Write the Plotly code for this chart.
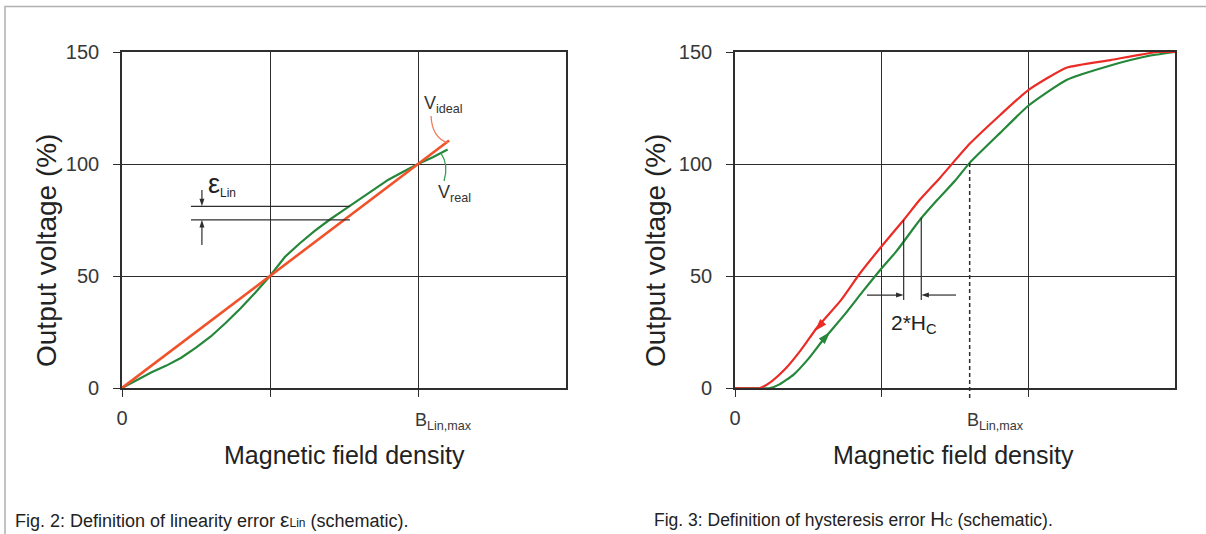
import plotly.graph_objects as go

# ---------------- data ----------------
# Fig. 2 (linearity)
lin_x = [0.0, 0.1, 0.2, 0.3, 0.4, 0.5, 0.6, 0.7, 0.8, 0.9, 1.0, 1.1, 1.2, 1.3, 1.4, 1.5, 1.6, 1.7, 1.8, 1.9, 2.0, 2.1, 2.2]
lin_real = [0, 3.5, 7, 10, 13.5, 18, 23, 29, 35.5, 42.5, 50, 58.5, 64.5, 70, 75, 79.5, 84, 88.5, 93, 96.5, 100, 103, 106.5]
ideal_x = [0, 2.21]
ideal_y = [0, 110.5]

# Fig. 3 (hysteresis)
down_x = [0, 0.17, 0.25, 0.35, 0.45, 0.56, 0.72, 0.85, 0.99, 1.15, 1.26, 1.4, 1.6, 1.81, 2.0, 2.26, 2.56, 2.88, 3.0]
down_v = [0, 0, 3, 9, 17, 27, 39, 51, 62.5, 75, 84, 94, 109, 122, 133, 143, 146.4, 150, 150]
up_x = [0, 0.24, 0.3, 0.4, 0.5, 0.6, 0.75, 0.87, 0.99, 1.1, 1.26, 1.38, 1.5, 1.6, 1.81, 2.0, 2.26, 2.56, 2.8, 3.0]
up_v = [0, 0, 1.5, 6, 13, 21.4, 33, 43, 52.7, 61, 75, 84, 92.5, 100.5, 114, 126, 137.5, 144, 148, 150]

y_ticks = [0, 50, 100, 150]
x_major_ticks = [0]
x_major_text = ["0"]
x_minor_ticks = [1, 2]
b_lin_left = 2.0
b_lin_right = 1.6

# annotation geometry (data units)
eps_x = 0.54
eps_top, eps_bot = 81.1, 75.1
eps_line_x = [0.466, 1.54]
eps_tail_top, eps_tail_bot = 88.4, 63.8
hc_red_x, hc_green_x = 1.15, 1.27
hc_arrow_v = 41.5
hc_red_tail_x, hc_green_tail_x = 0.90, 1.507
red_head = (0.545, 25.5)
green_head = (0.648, 25.0)

# ---------------- styling ----------------
W, H = 1206, 534
FONT = "Liberation Sans, Arial, Helvetica, sans-serif"
AX = "#2e2e2e"
TXT = "#383838"
ORANGE = "#f0522a"
RED = "#eb2b25"
GREEN = "#25873a"


def px(x):
    return x / W


def py(y):
    return 1 - y / H


fig = go.Figure()

fig.add_trace(go.Scatter(x=lin_x, y=lin_real, xaxis="x", yaxis="y", mode="lines",
                         line=dict(color=GREEN, width=2.2), showlegend=False, hoverinfo="skip"))
fig.add_trace(go.Scatter(x=ideal_x, y=ideal_y, xaxis="x", yaxis="y", mode="lines",
                         line=dict(color=ORANGE, width=2.6), showlegend=False, hoverinfo="skip"))
fig.add_trace(go.Scatter(x=up_x, y=up_v, xaxis="x2", yaxis="y2", mode="lines",
                         line=dict(color=GREEN, width=2.2, shape="spline", smoothing=0.5),
                         showlegend=False, hoverinfo="skip"))
fig.add_trace(go.Scatter(x=down_x, y=down_v, xaxis="x2", yaxis="y2", mode="lines",
                         line=dict(color=RED, width=2.2, shape="spline", smoothing=0.5),
                         showlegend=False, hoverinfo="skip"))


def head(x, y, xa, ya, angle, color, size):
    fig.add_trace(go.Scatter(x=[x], y=[y], xaxis=xa, yaxis=ya, mode="markers",
                             marker=dict(symbol="arrow", angle=angle, size=size, color=color,
                                         line=dict(width=0)),
                             showlegend=False, hoverinfo="skip", cliponaxis=False))


# arrow heads (tips sit on the given point)
head(eps_x, eps_top, "x", "y", 180, AX, 8)
head(eps_x, eps_bot, "x", "y", 0, AX, 8)
head(hc_red_x, hc_arrow_v, "x2", "y2", 90, AX, 8)
head(hc_green_x, hc_arrow_v, "x2", "y2", 270, AX, 8)
head(red_head[0], red_head[1], "x2", "y2", 222, RED, 13)
head(green_head[0], green_head[1], "x2", "y2", 42, GREEN, 13)

common = dict(showgrid=True, gridcolor=AX, gridwidth=1.4, showline=True, linecolor=AX,
              linewidth=1.6, mirror=True, ticks="outside", ticklen=7, tickcolor=AX,
              tickwidth=1.4, zeroline=False, fixedrange=True,
              tickfont=dict(family=FONT, size=20, color=TXT))

xcommon = dict(common, range=[0, 3], tickvals=x_major_ticks, ticktext=x_major_text, ticklabelstandoff=4,
               minor=dict(tickvals=x_minor_ticks, ticks="outside", ticklen=7, tickcolor=AX, tickwidth=1.4,
                          showgrid=True, gridcolor=AX, gridwidth=1.4))
ycommon = dict(common, range=[0, 150], tickvals=y_ticks, ticklabelstandoff=10)

fig.update_layout(
    width=W, height=H, margin=dict(l=0, r=0, t=0, b=0, pad=0, autoexpand=False),
    paper_bgcolor="white", plot_bgcolor="white",
    font=dict(family=FONT, color=TXT),
    xaxis=dict(xcommon, domain=[px(122), px(566)], anchor="y"),
    yaxis=dict(ycommon, domain=[py(388), py(52)], anchor="x"),
    xaxis2=dict(xcommon, domain=[px(735), px(1175)], anchor="y2"),
    yaxis2=dict(ycommon, domain=[py(388), py(52)], anchor="x2"),
)

shapes = []
# outer frame
shapes.append(dict(type="rect", xref="paper", yref="paper", x0=px(5), x1=1.02, y0=-0.05, y1=py(6.5),
                   line=dict(color="#b0b0b0", width=1.5), layer="below"))
# linearity-error helper lines and arrow shafts
for yv in (eps_top, eps_bot):
    shapes.append(dict(type="line", xref="x", yref="y", x0=eps_line_x[0], x1=eps_line_x[1], y0=yv, y1=yv,
                       line=dict(color=AX, width=1.2)))
shapes.append(dict(type="line", xref="x", yref="y", x0=eps_x, x1=eps_x, y0=eps_tail_top, y1=eps_top + 2,
                   line=dict(color=AX, width=1.2)))
shapes.append(dict(type="line", xref="x", yref="y", x0=eps_x, x1=eps_x, y0=eps_tail_bot, y1=eps_bot - 2,
                   line=dict(color=AX, width=1.2)))
# leader curves
shapes.append(dict(type="path", xref="x", yref="y", path="M 2.088,121.4 Q 2.095,111.6 2.203,109.4",
                   line=dict(color="#f47a5a", width=1.3)))
shapes.append(dict(type="path", xref="x", yref="y", path="M 2.176,92.4 Q 2.209,99.6 2.155,104.9",
                   line=dict(color="#3aa050", width=1.3)))
# B_Lin,max dashed line (right)
shapes.append(dict(type="line", xref="x2", yref="paper", x0=b_lin_right, x1=b_lin_right,
                   y0=py(398), y1=py(161), line=dict(color=AX, width=1.5, dash="4px,3px")))
# 2*Hc vertical lines and arrow shafts
shapes.append(dict(type="line", xref="x2", yref="y2", x0=hc_red_x, x1=hc_red_x, y0=39.3, y1=75,
                   line=dict(color=AX, width=1.2)))
shapes.append(dict(type="line", xref="x2", yref="y2", x0=hc_green_x, x1=hc_green_x, y0=39.3, y1=76,
                   line=dict(color=AX, width=1.2)))
shapes.append(dict(type="line", xref="x2", yref="y2", x0=hc_red_tail_x, x1=hc_red_x - 0.03,
                   y0=hc_arrow_v, y1=hc_arrow_v, line=dict(color=AX, width=1.2)))
shapes.append(dict(type="line", xref="x2", yref="y2", x0=hc_green_tail_x, x1=hc_green_x + 0.03,
                   y0=hc_arrow_v, y1=hc_arrow_v, line=dict(color=AX, width=1.2)))
fig.update_layout(shapes=shapes)

ann = []
for cx in (344, 954):
    ann.append(dict(text="Magnetic field density", xref="paper", yref="paper", x=px(cx), y=py(455),
                    showarrow=False, font=dict(size=25, color="#222222"), xanchor="center", yanchor="middle"))
for cx in (47, 656):
    ann.append(dict(text="Output voltage (%)", xref="paper", yref="paper", x=px(cx), y=py(251),
                    showarrow=False, textangle=-90, font=dict(size=28, color="#222222"),
                    xanchor="center", yanchor="middle"))
ann.append(dict(text="B<sub>Lin,max</sub>", xref="x", yref="paper", x=b_lin_left, y=py(421),
                xanchor="left", yanchor="middle", xshift=-5, showarrow=False,
                font=dict(size=18, color=TXT)))
ann.append(dict(text="B<sub>Lin,max</sub>", xref="x2", yref="paper", x=b_lin_right, y=py(421),
                xanchor="left", yanchor="middle", xshift=-5, showarrow=False,
                font=dict(size=18, color=TXT)))
ann.append(dict(text="<span style='font-size:27px'>ε</span><sub>Lin</sub>", xref="x", yref="y",
                x=0.57, y=91, xanchor="left", yanchor="middle", showarrow=False,
                font=dict(size=17, color="#222222")))
ann.append(dict(text="V<sub>ideal</sub>", xref="x", yref="y", x=2.03, y=126.5, xanchor="left",
                yanchor="middle", showarrow=False, font=dict(size=18, color="#333333")))
ann.append(dict(text="V<sub>real</sub>", xref="x", yref="y", x=2.12, y=87, xanchor="left",
                yanchor="middle", showarrow=False, font=dict(size=18, color="#333333")))
ann.append(dict(text="2*H<sub>C</sub>", xref="x2", yref="y2", x=1.22, y=28.5, xanchor="center",
                yanchor="middle", showarrow=False, font=dict(size=21, color="#222222")))
ann.append(dict(text="Fig. 2: Definition of linearity error <span style='font-size:21px'>ε</span><span style='font-size:12px'>Lin</span> (schematic).",
                xref="paper", yref="paper", x=px(13), y=py(519), xanchor="left", yanchor="middle",
                showarrow=False, font=dict(size=18, color="#222222")))
ann.append(dict(text="Fig. 3: Definition of hysteresis error <span style='font-size:20px'>H</span><span style='font-size:11px'>C</span> (schematic).",
                xref="paper", yref="paper", x=px(652), y=py(519), xanchor="left", yanchor="middle",
                showarrow=False, font=dict(size=17.5, color="#222222")))
fig.update_layout(annotations=ann)

fig.write_html("out.html", config=dict(displayModeBar=False),
               post_script="document.body.style.margin='0';document.body.style.overflow='hidden';")
